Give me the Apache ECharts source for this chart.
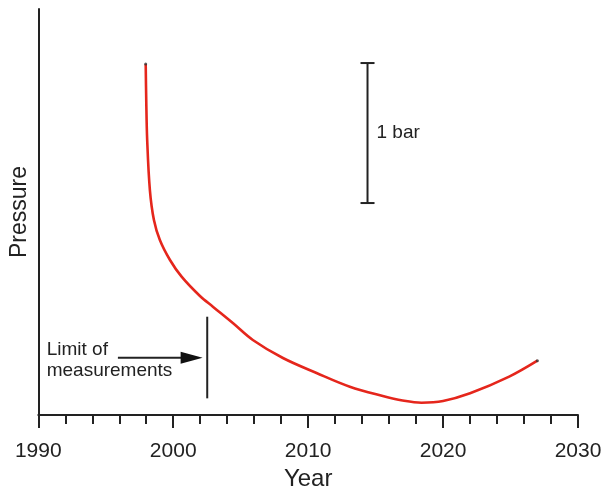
<!DOCTYPE html>
<html>
<head>
<meta charset="utf-8">
<script src="https://cdn.jsdelivr.net/npm/echarts@6/dist/echarts.min.js"></script>
<style>html,body{margin:0;padding:0;background:#fff}#c{width:603px;height:486px}</style>
</head>
<body>
<div id="c"></div>
<script>
// Curve data (year, pressure in bar above arbitrary baseline)
const years = [1997.96, 1998.0, 1998.07, 1998.27, 1998.57, 1999.01, 1999.76, 2000.62, 2001.98, 2002.96, 2004.44, 2005.9, 2008.13, 2010.62, 2013.09, 2015.53, 2017.0, 2018.4, 2020.0, 2022.0, 2024.9, 2026.99];
const pressure = [2.507, 2.25, 1.964, 1.607, 1.393, 1.25, 1.107, 0.988, 0.85, 0.772, 0.655, 0.536, 0.407, 0.3, 0.202, 0.136, 0.104, 0.088, 0.1, 0.155, 0.274, 0.388];
// Axis ticks
const xTicks = [1990, 2000, 2010, 2020, 2030];
// Scale bar (1 bar)
const scaleBarYear = [2014.4];
const scaleBarRange = [1.514, 2.514];
const scaleBarText = ['1 bar'];
// Limit of measurements marker
const limitYear = [2002.52];
const limitRange = [0.119, 0.702];
const arrowYears = [1995.9, 2002.18];
const arrowP = [0.409];
const limitText = ['Limit of', 'measurements'];
const limitTextPos = [1990.62, 0.464, 0.314];

const FONT = 'Liberation Sans, Arial, sans-serif';
const chart = echarts.init(document.getElementById('c'));
const curve = years.map((y, i) => [y, pressure[i]]);

chart.setOption({
  animation: false,
  backgroundColor: '#fff',
  grid: {left: 38.3, right: 25, top: 9, bottom: 71, containLabel: false, outerBoundsMode: 'none'},
  xAxis: {
    type: 'value', min: xTicks[0], max: xTicks[xTicks.length - 1], interval: 10,
    name: 'Year', nameLocation: 'middle', nameGap: 50,
    nameTextStyle: {fontFamily: FONT, fontSize: 24, color: '#222'},
    axisLine: {lineStyle: {color: '#222', width: 2}},
    axisTick: {show: true, inside: false, length: 13, lineStyle: {color: '#222', width: 2}},
    minorTick: {show: true, splitNumber: 5, length: 9, lineStyle: {color: '#222', width: 2}},
    axisLabel: {fontFamily: FONT, fontSize: 21, color: '#222', margin: 26, formatter: v => String(v)},
    splitLine: {show: false}
  },
  yAxis: {
    type: 'value', min: 0, max: 2.9,
    name: 'Pressure', nameLocation: 'middle', nameGap: 7, nameRotate: 90,
    nameTextStyle: {fontFamily: FONT, fontSize: 23, color: '#222'},
    axisLine: {show: true, lineStyle: {color: '#222', width: 2}},
    axisTick: {show: false}, axisLabel: {show: false}, splitLine: {show: false}
  },
  series: [
    {
      type: 'line', data: curve, smooth: 0.35, showSymbol: false,
      lineStyle: {color: '#e5261c', width: 2.6}, z: 3
    },
    {
      type: 'scatter', data: [curve[0], curve[curve.length - 1]], symbolSize: 3,
      itemStyle: {color: '#333'}, z: 4
    },
    {
      type: 'custom', data: [[0]], z: 5,
      renderItem: function (params, api) {
        const ls = {stroke: '#222', lineWidth: 2};
        const sb0 = api.coord([scaleBarYear[0], scaleBarRange[0]]);
        const sb1 = api.coord([scaleBarYear[0], scaleBarRange[1]]);
        const lm0 = api.coord([limitYear[0], limitRange[0]]);
        const lm1 = api.coord([limitYear[0], limitRange[1]]);
        const a0 = api.coord([arrowYears[0], arrowP[0]]);
        const a1 = api.coord([arrowYears[1], arrowP[0]]);
        const t1 = api.coord([limitTextPos[0], limitTextPos[1]]);
        const t2 = api.coord([limitTextPos[0], limitTextPos[2]]);
        const cap = 7, head = 22, hw = 6;
        return {
          type: 'group',
          children: [
            {type: 'line', shape: {x1: sb0[0], y1: sb0[1], x2: sb1[0], y2: sb1[1]}, style: ls},
            {type: 'line', shape: {x1: sb0[0] - cap, y1: sb0[1], x2: sb0[0] + cap, y2: sb0[1]}, style: ls},
            {type: 'line', shape: {x1: sb1[0] - cap, y1: sb1[1], x2: sb1[0] + cap, y2: sb1[1]}, style: ls},
            {type: 'text', style: {text: scaleBarText[0], x: sb0[0] + 9, y: (sb0[1] + sb1[1]) / 2, fill: '#222', font: '19px ' + FONT, verticalAlign: 'middle', align: 'left'}},
            {type: 'line', shape: {x1: lm0[0], y1: lm0[1], x2: lm1[0], y2: lm1[1]}, style: ls},
            {type: 'line', shape: {x1: a0[0], y1: a0[1], x2: a1[0] - head + 2, y2: a1[1]}, style: ls},
            {type: 'polygon', shape: {points: [[a1[0], a1[1]], [a1[0] - head, a1[1] - hw], [a1[0] - head, a1[1] + hw]]}, style: {fill: '#111'}},
            {type: 'text', style: {text: limitText[0], x: t1[0], y: t1[1], fill: '#222', font: '19px ' + FONT, verticalAlign: 'middle', align: 'left'}},
            {type: 'text', style: {text: limitText[1], x: t2[0], y: t2[1], fill: '#222', font: '19px ' + FONT, verticalAlign: 'middle', align: 'left'}}
          ]
        };
      }
    }
  ]
});
</script>
</body>
</html>
